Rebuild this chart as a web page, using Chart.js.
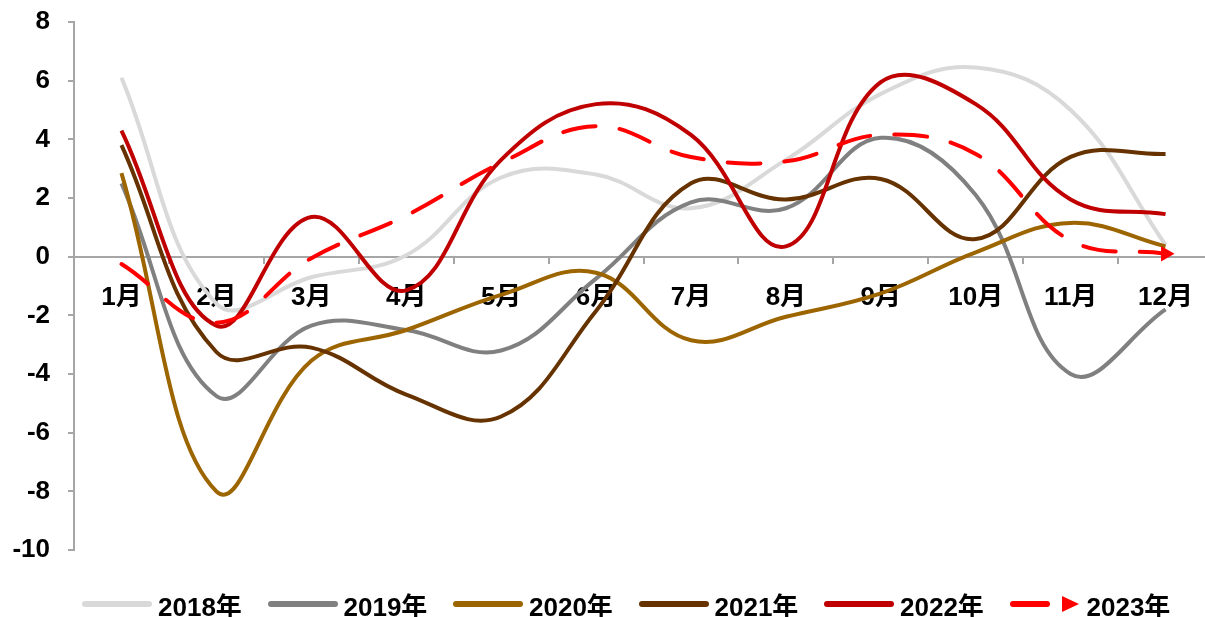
<!DOCTYPE html>
<html>
<head>
<meta charset="utf-8">
<script src="https://cdn.jsdelivr.net/npm/chart.js@4.4.0/dist/chart.umd.min.js"></script>
<style>
    html, body { margin: 0; padding: 0; background: #fff; }
    #wrap { position: relative; width: 1205px; height: 617px; overflow: hidden; }
    #chart { position: absolute; left: 0; top: 0; }
    #legend {
        position: absolute; left: 0; top: 588px; width: 1205px; height: 32px;
        font: bold 26px "Liberation Sans", Arial, "Noto Sans CJK SC", sans-serif; color: #000;
    }
    .item { position: absolute; top: 0; height: 32px; display: flex; align-items: center; white-space: nowrap; }
    .swatch { width: 70px; height: 6px; border-radius: 3px; margin-right: 6px; }
    .dash { width: 40px; height: 6px; border-radius: 3px; background: #FF0000; margin-right: 12px; }
    .arrow { width: 0; height: 0; border-top: 8px solid transparent; border-bottom: 8px solid transparent; border-left: 17px solid #FF0000; margin-right: 8px; }
</style>
</head>
<body>
<div id="wrap">
    <canvas id="chart" width="1222" height="617"></canvas>
    <div id="legend"></div>
</div>
<script>
// --- Data --- //
const months = ['1月', '2月', '3月', '4月', '5月', '6月', '7月', '8月', '9月', '10月', '11月', '12月'];
const years = ['2018年', '2019年', '2020年', '2021年', '2022年', '2023年'];
const colors = ['#D9D9D9', '#808080', '#9C6500', '#663300', '#C00000', '#FF0000'];

const v2018 = [6.1, -1.6, -0.7, 0.05, 2.7, 2.8, 1.65, 3.3, 5.55, 6.45, 5.0, 0.4];
const v2019 = [2.5, -4.75, -2.35, -2.5, -3.2, -0.75, 1.85, 1.65, 4.05, 2.1, -4.0, -1.8];
const v2020 = [2.85, -8.0, -3.55, -2.5, -1.3, -0.55, -2.85, -2.05, -1.25, 0.15, 1.15, 0.35];
const v2021 = [3.8, -3.25, -3.1, -4.7, -5.45, -1.85, 2.5, 1.95, 2.65, 0.6, 3.4, 3.5];
const v2022 = [4.3, -2.35, 1.35, -1.15, 3.3, 5.2, 4.15, 0.35, 5.95, 5.2, 1.95, 1.45];
const v2023 = [-0.25, -2.25, -0.05, 1.4, 3.2, 4.45, 3.4, 3.25, 4.15, 3.5, 0.55, 0.1];
const series = [v2018, v2019, v2020, v2021, v2022, v2023];

const yTicks = [8, 6, 4, 2, 0, -2, -4, -6, -8, -10];

const FONT = { family: '"Liberation Sans", Arial, "Noto Sans CJK SC", sans-serif', size: 26, weight: 'bold' };
const AXIS_GRAY = '#A6A6A6';

// --- Datasets --- //
const datasets = series.map((values, i) => {
    const isLast = i === series.length - 1;
    const ds = {
        label: years[i],
        data: values,
        borderColor: colors[i],
        backgroundColor: colors[i],
        borderWidth: 4,
        tension: 0.4,
        fill: false,
        pointRadius: 0,
        order: series.length - i // 2018 drawn first, 2023 on top
    };
    if (isLast) {
        ds.borderDash = [33, 24];
        ds.borderCapStyle = 'round';
        // arrow head on the last point only
        ds.pointRadius = values.map((v, j) => (j === values.length - 1 ? 9 : 0));
        ds.pointStyle = 'triangle';
        ds.rotation = 90;
        ds.pointBorderWidth = 0;
        ds.pointBackgroundColor = colors[i];
    }
    return ds;
});

// --- Chart --- //
new Chart(document.getElementById('chart').getContext('2d'), {
    type: 'line',
    data: { labels: months, datasets: datasets },
    options: {
        responsive: false,
        animation: false,
        events: [],
        layout: { padding: { top: 22, right: 2, bottom: 67, left: 0 } },
        plugins: {
            legend: { display: false },
            tooltip: { enabled: false }
        },
        scales: {
            x: {
                type: 'category',
                offset: true,
                position: { y: 0 },
                grid: {
                    offset: true,
                    drawOnChartArea: false,
                    drawTicks: true,
                    tickLength: 6,
                    color: AXIS_GRAY,
                    lineWidth: 2
                },
                border: { color: AXIS_GRAY, width: 2 },
                ticks: { font: FONT, color: '#000', padding: 20, maxRotation: 0, autoSkip: false }
            },
            y: {
                min: -10,
                max: 8,
                afterBuildTicks: s => { s.ticks = yTicks.map(v => ({ value: v })); },
                afterFit: s => {
                    s.width = 74;
                    // let the layout padding decide where the plot starts / ends
                    s.paddingTop = 0;
                    s.paddingBottom = 0;
                },
                grid: {
                    drawOnChartArea: false,
                    drawTicks: true,
                    tickLength: 6,
                    color: AXIS_GRAY,
                    lineWidth: 2
                },
                border: { color: AXIS_GRAY, width: 2 },
                ticks: { font: FONT, color: '#000', padding: 18, callback: v => String(v) }
            }
        }
    }
});

// --- Legend --- //
const legend = document.getElementById('legend');
years.forEach((name, i) => {
    const item = document.createElement('div');
    item.className = 'item';
    item.style.left = (82 + i * 185.5) + 'px';
    if (i === years.length - 1) {
        item.innerHTML = '<span class="dash"></span><span class="arrow"></span><span>' + name + '</span>';
    } else {
        item.innerHTML = '<span class="swatch" style="background:' + colors[i] + '"></span><span>' + name + '</span>';
    }
    legend.appendChild(item);
});
</script>
</body>
</html>
